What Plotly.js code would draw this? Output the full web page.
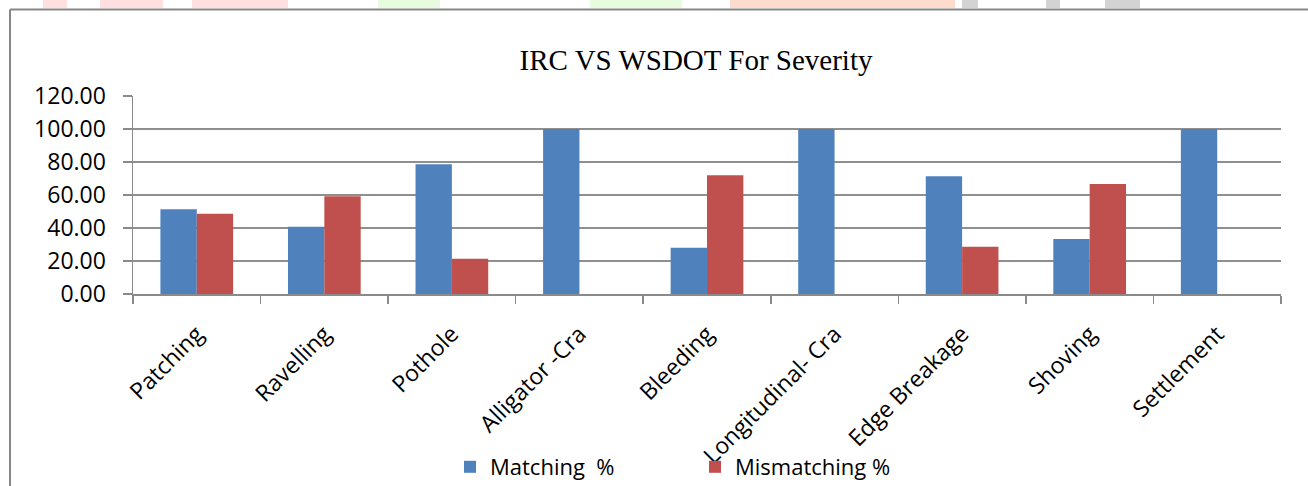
<!DOCTYPE html>
<html>
<head>
<meta charset="utf-8">
<script src="https://cdn.plot.ly/plotly-3.0.1.min.js"></script>
<style>
html,body{margin:0;padding:0;background:#fff;}
#chart{width:1308px;height:486px;}
</style>
</head>
<body>
<div id="chart"></div>
<script>
const categories = ["Patching", "Ravelling", "Pothole", "Alligator -Cra", "Bleeding", "Longitudinal- Cra", "Edge Breakage", "Shoving", "Settlement"];
const matching = [51.4, 40.7, 78.6, 100, 28.0, 100, 71.4, 33.3, 100];
const mismatching = [48.6, 59.3, 21.4, 0, 72.0, 0, 28.6, 66.7, 0];
const seriesNames = ["Matching  %", "Mismatching %"];
const yTicks = [0, 20, 40, 60, 80, 100, 120];

// pixel -> paper helpers (plot area: x 133..1281, y 96..294)
const L = 133, R = 1281, T = 96, B = 294;
const px = X => (X - L) / (R - L);
const py = Y => (B - Y) / (B - T);

function rect(x0, y0, x1, y1, fill) {
  return {type: "rect", xref: "paper", yref: "paper",
    x0: px(x0), x1: px(x1), y0: py(y1), y1: py(y0),
    fillcolor: fill, line: {width: 0}, layer: "below"};
}

const shapes = [
  // faint watermark fragments at the very top
  rect(43, 0, 67, 8, "rgba(255,215,215,0.8)"),
  rect(100, 0, 163, 8, "rgba(255,215,215,0.8)"),
  rect(192, 0, 288, 8, "rgba(255,215,215,0.8)"),
  rect(378, 0, 440, 8, "rgba(225,250,215,0.8)"),
  rect(590, 0, 682, 8, "rgba(225,250,215,0.8)"),
  rect(730, 0, 955, 8, "rgba(255,215,200,0.9)"),
  rect(962, 0, 978, 8, "rgba(200,200,200,0.8)"),
  rect(1046, 0, 1060, 8, "rgba(200,200,200,0.8)"),
  rect(1105, 0, 1140, 8, "rgba(200,200,200,0.8)"),
  // chart outer border (left and top)
  {type: "line", xref: "paper", yref: "paper", x0: px(10), x1: px(1310), y0: py(9.5), y1: py(9.5), line: {color: "#878787", width: 2}},
  {type: "line", xref: "paper", yref: "paper", x0: px(10), x1: px(10), y0: py(9.5), y1: py(490), line: {color: "#878787", width: 2}}
];

const traces = [
  {type: "bar", name: seriesNames[0], x: categories, y: matching,
   marker: {color: "#4F81BD", line: {width: 0}}},
  {type: "bar", name: seriesNames[1], x: categories, y: mismatching,
   marker: {color: "#C0504D", line: {width: 0}}}
];

const fam = "Open Sans, Liberation Sans, sans-serif";
const yFont = {family: fam, size: 23, color: "#000"};
const xFont = {family: fam, size: 23, color: "#000"};
const legFont = {family: fam, size: 22, color: "#000"};

const layout = {
  width: 1308, height: 486,
  margin: {l: L, r: 1308 - R, t: T, b: 486 - B, pad: 0, autoexpand: false},
  paper_bgcolor: "#fff", plot_bgcolor: "#fff",
  title: {text: "IRC VS WSDOT For Severity", x: px(696), xanchor: "center", xref: "paper",
          y: 1 - 60/486, yanchor: "middle",
          font: {family: "Liberation Serif, Times New Roman, serif", size: 29, color: "#000"}},
  barmode: "group", bargap: 0.43, bargroupgap: 0,
  xaxis: {type: "category", tickangle: -45, tickfont: xFont, automargin: false,
          showline: true, linecolor: "#8a8a8a", linewidth: 1.5,
          ticks: "outside", tickson: "boundaries", ticklen: 8, tickcolor: "#8a8a8a", tickwidth: 1.5,
          showgrid: false, zeroline: false, ticklabelstandoff: 16},
  yaxis: {range: [0, 120], tickvals: yTicks, tickformat: ".2f", tickfont: yFont, automargin: false,
          showline: true, linecolor: "#8a8a8a", linewidth: 1.5,
          ticks: "outside", ticklen: 9, tickcolor: "#8a8a8a", tickwidth: 1.5,
          showgrid: true, gridcolor: "#8f8f8f", gridwidth: 1.5, zeroline: false, ticklabelstandoff: 12},
  showlegend: true,
  legend: {orientation: "h", x: px(450), xanchor: "left", y: py(467), yanchor: "middle",
           font: legFont, entrywidth: 200, entrywidthmode: "pixels",
           bgcolor: "rgba(0,0,0,0)", itemwidth: 30},
  shapes: shapes,
  font: yFont
};

Plotly.newPlot("chart", traces, layout, {displayModeBar: false, staticPlot: true});
</script>
</body>
</html>
